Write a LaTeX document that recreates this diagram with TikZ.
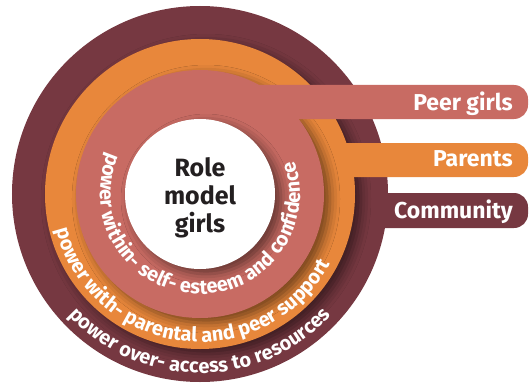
\documentclass[tikz,border=0pt]{standalone}
\usepackage{fontspec}
\setmainfont{Fira Sans}
\usetikzlibrary{decorations.text,shadows.blur}
\definecolor{powerover}{HTML}{763841}
\definecolor{powerwith}{HTML}{E8873B}
\definecolor{powerwithin}{HTML}{C86B63}
\definecolor{roletext}{HTML}{231F20}
\newcommand{\ringfont}{\fontsize{20}{20}\selectfont\bfseries\color{white}}

\begin{document}
\begin{tikzpicture}[x=1pt,y=1pt,
    ringshade/.style={blur shadow={shadow xshift=6pt,shadow yshift=-5pt,
        shadow blur radius=10pt,shadow opacity=50}},
    tab/.style={rounded corners=14pt},
    tablabel/.style={anchor=base east,inner sep=0pt,text=white,
        font=\fontsize{23}{23}\selectfont\bfseries},
    ringtext/.style={decorate,decoration={text along path,text align=center,
        text={|\ringfont|#1}}}]
  \useasboundingbox (-200,-189) rectangle (329,194);
  % rings from the outside in, each with its tab
  \fill[powerover] (0,0) circle[radius=188];
  \fill[powerover,tab] (0,-34) rectangle (328,1);
  \fill[powerwith,ringshade] (0,0) circle[radius=155];
  \fill[powerwith,tab] (0,17) rectangle (328,51);
  \fill[powerwithin,ringshade] (0,0) circle[radius=124];
  \fill[powerwithin,tab] (0,75) rectangle (328,109);
  \fill[white,ringshade] (0,0) circle[radius=75];
  \node[align=center,text=roletext,font=\fontsize{25}{28}\selectfont\bfseries]
    (role) at (0,-4) {Role\\model\\girls};
  \node[tablabel] (peer) at (313,84) {Peer girls};
  \node[tablabel] (parents) at (313,28) {Parents};
  \node[tablabel] (community) at (313,-24) {Community};
  % curved captions
  \path[ringtext={power within- self- esteem and confidence}]
    (92.5:100) arc[start angle=92.5,end angle=442.5,radius=100];
  \path[ringtext={power with- parental and peer support}]
    (88:148) arc[start angle=88,end angle=438,radius=148];
  \path[ringtext={power over- access to resources}]
    (95:179) arc[start angle=95,end angle=445,radius=179];
\end{tikzpicture}
\end{document}
